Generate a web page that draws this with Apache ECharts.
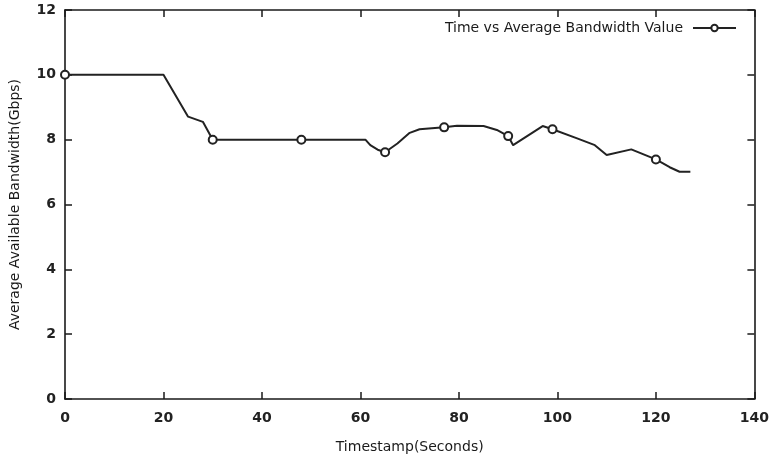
<!DOCTYPE html>
<html>
<head>
<meta charset="utf-8">
<script src="https://cdn.jsdelivr.net/npm/echarts@6/dist/echarts.min.js"></script>
<style>html,body{margin:0;padding:0;background:#fff}#c{width:772px;height:461px}</style>
</head>
<body>
<div id="c"></div>
<script>
var seriesName = 'Time vs Average Bandwidth Value';
var times  = [0, 20, 25, 28, 30, 48, 61, 62, 63.5, 65, 67.5, 70, 72, 77, 79.6, 85, 87.7, 90, 91, 97, 99, 104, 107.6, 110, 115, 120, 122.8, 124.8, 127];
var values = [10, 10, 8.71, 8.55, 8.0, 8.0, 8.0, 7.83, 7.69, 7.61, 7.88, 8.21, 8.32, 8.38, 8.43, 8.42, 8.30, 8.11, 7.83, 8.42, 8.32, 8.04, 7.83, 7.53, 7.70, 7.39, 7.15, 7.01, 7.01];
var markedTimes = [0, 30, 48, 65, 77, 90, 99, 120];
var xTicks = [0, 20, 40, 60, 80, 100, 120, 140];
var yTicks = [0, 2, 4, 6, 8, 10, 12];

var data = times.map(function (t, i) {
  var item = { value: [t, values[i]] };
  if (markedTimes.indexOf(t) < 0) item.symbol = 'none';
  return item;
});

var font = 'DejaVu Sans';
var ink = '#1a1a1a';
var chart = echarts.init(document.getElementById('c'), null, { renderer: 'canvas' });
var tickCommon = { show: true, inside: true, length: 7, lineStyle: { color: ink, width: 1.5 } };
var lineCommon = { show: true, onZero: false, lineStyle: { color: ink, width: 1.6 } };
chart.setOption({
  animation: false,
  backgroundColor: '#fff',
  grid: { left: 64, right: 17, top: 10, bottom: 62, containLabel: false },
  legend: {
    show: true,
    right: 30, top: 16,
    align: 'right',
    itemWidth: 43, itemHeight: 8,
    textStyle: { fontFamily: font, fontSize: 14, color: ink, padding: [0, 5, 0, 0] },
    data: [seriesName]
  },
  xAxis: [{
    type: 'value', min: xTicks[0], max: xTicks[xTicks.length - 1], interval: 20,
    position: 'bottom',
    name: 'Timestamp(Seconds)', nameLocation: 'middle', nameGap: 41,
    nameTextStyle: { fontFamily: font, fontSize: 14, color: ink },
    axisLine: lineCommon, axisTick: tickCommon,
    axisLabel: { fontFamily: font, fontSize: 14, fontWeight: 'bold', color: '#222', margin: 12 },
    splitLine: { show: false }
  }, {
    type: 'value', min: xTicks[0], max: xTicks[xTicks.length - 1], interval: 20,
    position: 'top',
    axisLine: lineCommon, axisTick: tickCommon,
    axisLabel: { show: false }, splitLine: { show: false }
  }],
  yAxis: [{
    type: 'value', min: yTicks[0], max: yTicks[yTicks.length - 1], interval: 2,
    position: 'left',
    name: 'Average Available Bandwidth(Gbps)', nameLocation: 'middle', nameGap: 43,
    nameTextStyle: { fontFamily: font, fontSize: 14, color: ink },
    axisLine: lineCommon, axisTick: tickCommon,
    axisLabel: { fontFamily: font, fontSize: 14, fontWeight: 'bold', color: '#222', margin: 9 },
    splitLine: { show: false }
  }, {
    type: 'value', min: yTicks[0], max: yTicks[yTicks.length - 1], interval: 2,
    position: 'right',
    axisLine: lineCommon, axisTick: tickCommon,
    axisLabel: { show: false }, splitLine: { show: false }
  }],
  series: [{
    name: seriesName,
    type: 'line',
    data: data,
    symbol: 'emptyCircle',
    symbolSize: 8,
    showAllSymbol: true,
    lineStyle: { color: '#222', width: 2 },
    itemStyle: { color: '#222', borderColor: '#222', borderWidth: 1.5 },
    z: 5
  }]
});
</script>
</body>
</html>
